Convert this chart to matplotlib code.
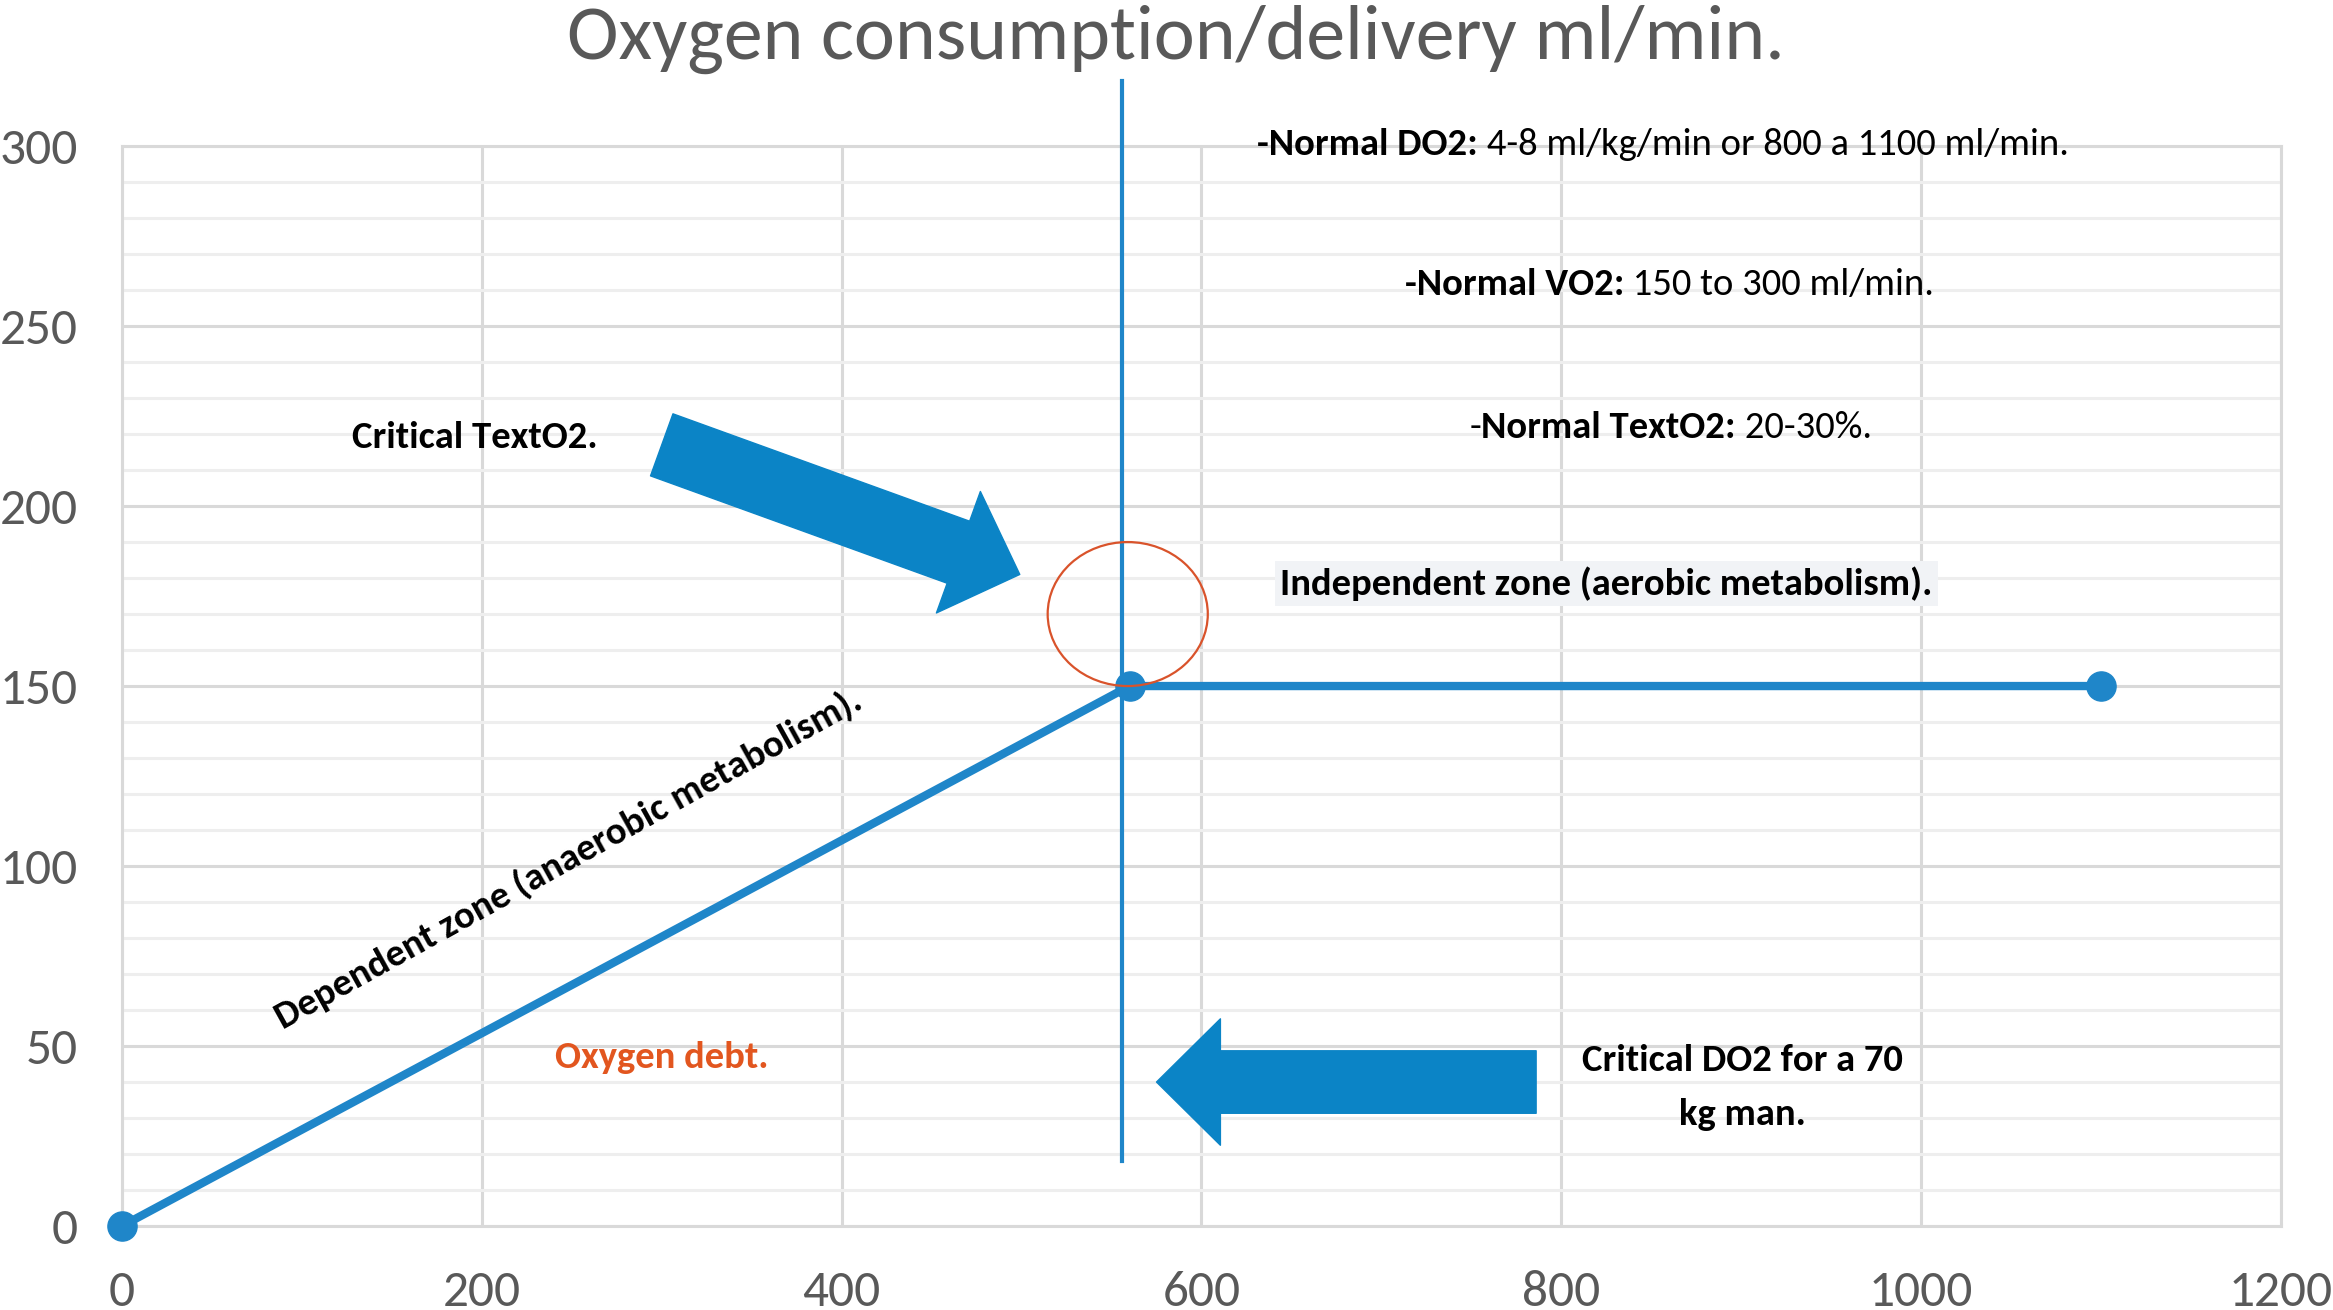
"""
Oxygen consumption vs delivery (VO2 / DO2) chart
"""

import matplotlib.pyplot as plt
from matplotlib.patches import Ellipse
from matplotlib.ticker import MultipleLocator

# data
do2 = [0, 560, 1100]
vo2 = [0, 150, 150]
critical_do2 = 556
critical_span = [18, 318]

x_ticks = [0, 200, 400, 600, 800, 1000, 1200]
y_ticks = [0, 50, 100, 150, 200, 250, 300]

BLUE = '#1f86c9'
ARROW = '#0b84c6'
GREY = '#595959'
REG_FONT = ['Carlito', 'Lato', 'DejaVu Sans']
BOLD_FONT = ['Carlito', 'Lato', 'DejaVu Sans']
FS = 27.8


def main():
    fig = plt.figure(figsize=(23.33, 13.10), dpi=100)
    ax = fig.add_axes([0.0523, 0.0641, 0.9254, 0.8244])
    ax.set_xlim(0, 1200)
    ax.set_ylim(0, 300)
    ax.set_xticks(x_ticks)
    ax.set_yticks(y_ticks)
    ax.yaxis.set_minor_locator(MultipleLocator(10))

    # grid
    ax.set_axisbelow(True)
    ax.grid(which='major', color='#d9d9d9', lw=2.2)
    ax.yaxis.grid(which='minor', color='#eeeeee', lw=2.2)
    for s in ax.spines.values():
        s.set_color('#d9d9d9')
        s.set_linewidth(2.2)

    ax.tick_params(which='both', length=0)
    ax.tick_params(axis='y', pad=32)
    ax.tick_params(axis='x', pad=32)
    for lab in ax.get_xticklabels() + ax.get_yticklabels():
        lab.set_fontfamily(REG_FONT)
        lab.set_fontsize(37)
        lab.set_color(GREY)

    # curves
    ax.plot(do2, vo2, color=BLUE, lw=6, marker='o', ms=21,
            clip_on=False, zorder=5)
    ax.plot([critical_do2, critical_do2], critical_span, color=BLUE,
            lw=3, clip_on=False, zorder=4)

    ax.add_patch(Ellipse((559, 170), 89, 40, fill=False,
                         ec='#d9532b', lw=1.6, zorder=6))

    # arrows
    ax.annotate('', xy=(499, 181), xytext=(300, 217),
                arrowprops=dict(arrowstyle='simple,head_length=0.47,head_width=0.93,tail_width=0.475',
                                color=ARROW, mutation_scale=100,
                                shrinkA=0, shrinkB=0))
    ax.annotate('', xy=(575, 40), xytext=(786, 40),
                arrowprops=dict(arrowstyle='simple,head_length=0.46,head_width=0.91,tail_width=0.45',
                                color=ARROW, mutation_scale=100,
                                shrinkA=0, shrinkB=0))

    bold = dict(fontsize=FS, fontweight='bold', family=BOLD_FONT, color='black')
    reg = dict(fontsize=FS, fontweight='normal', family=BOLD_FONT, color='black')

    # top notes (bold + regular pieces)
    t = ax.text(631, 300.4, '-Normal DO2:', ha='left', va='center', **bold)
    ax.annotate(' 4-8 ml/kg/min or 800 a 1100 ml/min.', xy=(1, 0), xycoords=t,
                ha='left', va='bottom', **reg)

    t = ax.text(713, 261.6, '-Normal VO2:', ha='left', va='center', **bold)
    ax.annotate(' 150 to 300 ml/min.', xy=(1, 0), xycoords=t,
                ha='left', va='bottom', **reg)

    t = ax.text(749, 221.9, '-', ha='left', va='center', **reg)
    t2 = ax.annotate('Normal TextO2:', xy=(1, 0), xycoords=t,
                     ha='left', va='bottom', **bold)
    ax.annotate(' 20-30%.', xy=(1, 0), xycoords=t2,
                ha='left', va='bottom', **reg)

    ax.text(825, 178.5, 'Independent zone (aerobic metabolism).',
            ha='center', va='center',
            bbox=dict(fc='#f1f3f6', ec='none', pad=4), **bold)
    ax.text(128, 219, 'Critical TextO2.', ha='left', va='center', **bold)
    ax.text(248, 102, 'Dependent zone (anaerobic metabolism).',
            rotation=29, rotation_mode='anchor', ha='center', va='center', **bold)
    ax.text(300, 46.7, 'Oxygen debt.', ha='center', va='center',
            fontsize=FS, fontweight='bold', family=BOLD_FONT, color='#e2561f')
    ax.text(900.6, 38.5, 'Critical DO2 for a 70\nkg man.', ha='center',
            va='center', linespacing=1.75, **bold)

    fig.text(0.504, 0.970, 'Oxygen consumption/delivery ml/min.',
             ha='center', va='center', fontsize=56, color=GREY,
             family=REG_FONT)

    fig.savefig('out.png', dpi=100)


if __name__ == "__main__":
    main()
